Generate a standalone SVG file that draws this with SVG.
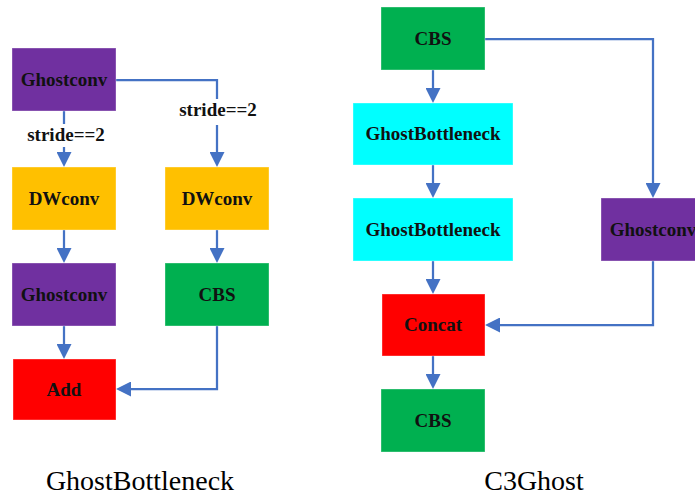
<svg xmlns="http://www.w3.org/2000/svg" width="695" height="497" viewBox="0 0 695 497">
  <style>
    .box { stroke-width: 1; stroke-opacity: 0.35; stroke: #ffffff; }
    .purple { fill: #7030A0; }
    .yellow { fill: #FFC000; }
    .green { fill: #00B050; }
    .cyan { fill: #00FFFF; }
    .red { fill: #FF0000; }
    text { font-family: "Liberation Serif", "DejaVu Serif", "Noto Serif", serif; }
    .lbl { font-weight: bold; font-size: 19px; fill: #111111; text-anchor: middle; }
    .cap { font-size: 28px; fill: #000000; text-anchor: middle; }
    .wire { fill: none; stroke: #4472C4; stroke-width: 2.25; marker-end: url(#arrow); }
  </style>
  <defs>
    <marker id="arrow" viewBox="0 0 15 15" refX="10" refY="7.5" markerWidth="15" markerHeight="15" markerUnits="userSpaceOnUse" orient="auto">
      <path d="M0,0 L15,7.5 L0,15 Z" fill="#4472C4"/>
    </marker>
  </defs>
  <rect width="695" height="497" fill="#ffffff"/>

  <!-- Connectors -->
  <g id="connectors">
    <!-- GhostBottleneck -->
    <path class="wire" d="M64,111 V124 M64,147 V162"/>
    <path class="wire" d="M116,80 H217 V99 M217,125 V162"/>
    <path class="wire" d="M64,230 V258"/>
    <path class="wire" d="M217,230 V258"/>
    <path class="wire" d="M64,326 V354"/>
    <path class="wire" d="M217,326 V389 H121"/>
    <!-- C3Ghost -->
    <path class="wire" d="M433,70 V98"/>
    <path class="wire" d="M485,39 H653 V193"/>
    <path class="wire" d="M433,165 V193"/>
    <path class="wire" d="M433,261 V289"/>
    <path class="wire" d="M653,261 V325 H490"/>
    <path class="wire" d="M433,356 V384"/>
  </g>

  <!-- GhostBottleneck nodes -->
  <g id="gb-ghostconv1">
    <rect class="box purple" x="12" y="48" width="104" height="63"/>
    <text class="lbl" x="64" y="86">Ghostconv</text>
  </g>
  <g id="gb-stride-left">
    <text class="lbl" x="66" y="141">stride==2</text>
  </g>
  <g id="gb-stride-right">
    <text class="lbl" x="218" y="116">stride==2</text>
  </g>
  <g id="gb-dwconv1">
    <rect class="box yellow" x="12" y="167" width="104" height="63"/>
    <text class="lbl" x="64" y="205">DWconv</text>
  </g>
  <g id="gb-dwconv2">
    <rect class="box yellow" x="165" y="167" width="104" height="63"/>
    <text class="lbl" x="217" y="205">DWconv</text>
  </g>
  <g id="gb-ghostconv2">
    <rect class="box purple" x="12" y="263" width="104" height="63"/>
    <text class="lbl" x="64" y="301">Ghostconv</text>
  </g>
  <g id="gb-cbs">
    <rect class="box green" x="165" y="263" width="104" height="63"/>
    <text class="lbl" x="217" y="301">CBS</text>
  </g>
  <g id="gb-add">
    <rect class="box red" x="13" y="359" width="103" height="61"/>
    <text class="lbl" x="64" y="396">Add</text>
  </g>

  <!-- C3Ghost nodes -->
  <g id="c3-cbs1">
    <rect class="box green" x="381" y="7" width="104" height="63"/>
    <text class="lbl" x="433" y="45">CBS</text>
  </g>
  <g id="c3-bottleneck1">
    <rect class="box cyan" x="353" y="103" width="160" height="62"/>
    <text class="lbl" x="433" y="140">GhostBottleneck</text>
  </g>
  <g id="c3-bottleneck2">
    <rect class="box cyan" x="353" y="198" width="160" height="63"/>
    <text class="lbl" x="433" y="236">GhostBottleneck</text>
  </g>
  <g id="c3-ghostconv">
    <rect class="box purple" x="601" y="198" width="104" height="63"/>
    <text class="lbl" x="653" y="236">Ghostconv</text>
  </g>
  <g id="c3-concat">
    <rect class="box red" x="382" y="294" width="103" height="62"/>
    <text class="lbl" x="433" y="331">Concat</text>
  </g>
  <g id="c3-cbs2">
    <rect class="box green" x="381" y="389" width="104" height="63"/>
    <text class="lbl" x="433" y="427">CBS</text>
  </g>

  <!-- Captions -->
  <text class="cap" x="140" y="490">GhostBottleneck</text>
  <text class="cap" x="534" y="490">C3Ghost</text>
</svg>
